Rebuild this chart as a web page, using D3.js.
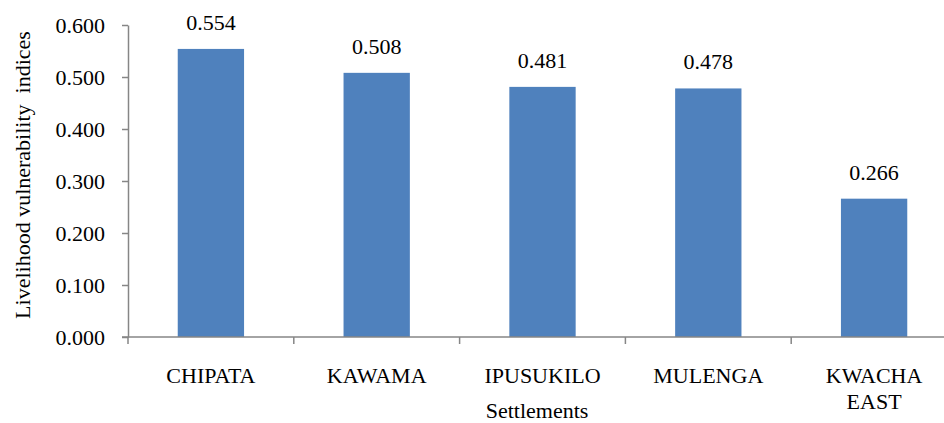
<!DOCTYPE html>
<html>
<head>
<meta charset="utf-8">
<script src="https://cdn.jsdelivr.net/npm/d3@7"></script>
<style>
  html, body { margin: 0; padding: 0; background: #fff; }
  svg { display: block; }
  .axis path, .axis line { stroke: #868686; stroke-width: 1.5px; }
</style>
</head>
<body>
<svg id="chart" width="944" height="423"></svg>
<script>
const settlements = ['CHIPATA', 'KAWAMA', 'IPUSUKILO', 'MULENGA', 'KWACHA EAST']
const indices = [0.554, 0.508, 0.481, 0.478, 0.266]
const yTicks = [0, 0.1, 0.2, 0.3, 0.4, 0.5, 0.6]

const svg = d3.select('#chart')
const margin = { top: 25, right: -13, bottom: 86, left: 128 }
const width = +svg.attr('width')
const height = +svg.attr('height')

const x = d3.scaleBand()
  .domain(settlements)
  .range([margin.left, width - margin.right])
  .paddingInner(0.6)
  .paddingOuter(0.3)

const y = d3.scaleLinear()
  .domain([0, 0.6])
  .range([height - margin.bottom, margin.top])

const label = sel => sel
  .attr('font-family', 'Liberation Serif')
  .attr('font-size', 22)
  .attr('fill', '#000')

// y axis
const yAxis = svg.append('g')
  .attr('class', 'axis')
  .attr('transform', `translate(${margin.left},0)`)
  .call(d3.axisLeft(y).tickValues(yTicks).tickFormat(d3.format('.3f')).tickSize(6).tickSizeOuter(0).tickPadding(17))
yAxis.attr('font-family', 'Liberation Serif').attr('font-size', 22)
yAxis.selectAll('text').attr('dy', '0.35em').call(label)

// bars
svg.append('g')
  .selectAll('rect')
  .data(settlements)
  .join('rect')
  .attr('x', d => x(d))
  .attr('y', (d, i) => y(indices[i]))
  .attr('width', x.bandwidth())
  .attr('height', (d, i) => y(0) - y(indices[i]))
  .attr('fill', '#4f81bd')

// x axis, ticks sit on the category boundaries
const xAxis = svg.append('g')
  .attr('class', 'axis')
  .attr('transform', `translate(0,${y(0)})`)
xAxis.append('line')
  .attr('x1', margin.left - 6)
  .attr('x2', width - margin.right)
  .attr('y1', 0)
  .attr('y2', 0)
xAxis.selectAll('.tick-b')
  .data(settlements)
  .join('line')
  .attr('class', 'tick-b')
  .attr('x1', d => x(d) - x.step() * 0.3)
  .attr('x2', d => x(d) - x.step() * 0.3)
  .attr('y1', 0)
  .attr('y2', 7)

// category labels
svg.append('g')
  .selectAll('text')
  .data(settlements)
  .join('text')
  .attr('y', 383)
  .attr('text-anchor', 'middle')
  .call(label)
  .each(function (d) {
    const t = d3.select(this)
    d.split(' ').forEach((w, i) => {
      t.append('tspan')
        .attr('x', x(d) + x.bandwidth() / 2)
        .attr('dy', i === 0 ? 0 : 26)
        .text(w)
    })
  })

// value labels
svg.append('g')
  .selectAll('text')
  .data(settlements)
  .join('text')
  .attr('x', d => x(d) + x.bandwidth() / 2)
  .attr('y', (d, i) => y(indices[i]) - 19)
  .attr('text-anchor', 'middle')
  .call(label)
  .text((d, i) => d3.format('.3f')(indices[i]))

// axis titles
svg.append('text')
  .attr('x', 537)
  .attr('y', 418)
  .attr('text-anchor', 'middle')
  .call(label)
  .text('Settlements')

svg.append('text')
  .attr('transform', 'translate(30,175) rotate(-90)')
  .attr('text-anchor', 'middle')
  .attr('xml:space', 'preserve')
  .call(label)
  .text('Livelihood vulnerability  indices')
</script>
</body>
</html>
